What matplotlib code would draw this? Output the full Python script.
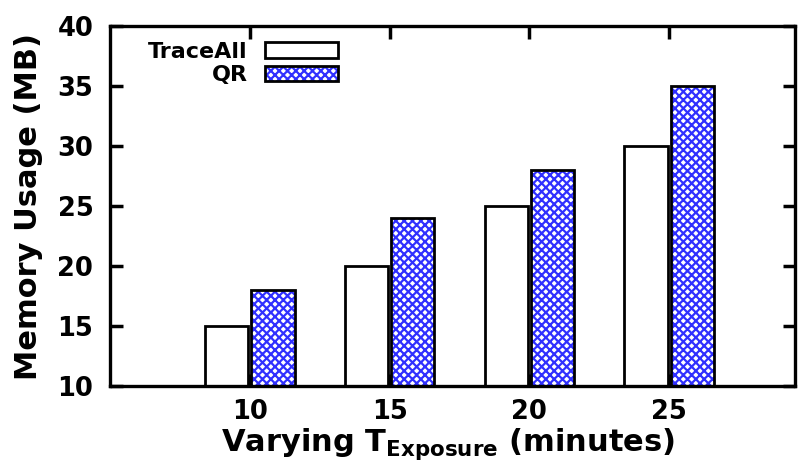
import matplotlib
matplotlib.use("Agg")
import matplotlib.pyplot as plt
from matplotlib.patches import Patch
from matplotlib.legend_handler import HandlerTuple
import numpy as np

categories = ["10", "15", "20", "25"]
traceall = [15, 20, 25, 30]
qr = [18, 24, 28, 35]

plt.rcParams['font.family'] = ['DejaVu Sans']
plt.rcParams['font.weight'] = 'bold'
plt.rcParams['mathtext.fontset'] = 'dejavusans'
plt.rcParams['mathtext.default'] = 'bf'
plt.rcParams['hatch.linewidth'] = 1.6

BLUE = '#3030ff'

fig = plt.figure(figsize=(8.08, 4.73), dpi=100)
ax = fig.add_axes([110/808, 1-386/473, (795-110)/808, (386-26)/473])

x = np.arange(1, len(categories) + 1)
w = 0.31
gap = 0.01
ax.bar(x - w/2 - gap, traceall, w, color='white', edgecolor='black', linewidth=2.0, zorder=2)
ax.bar(x + w/2 + gap, qr, w, color='white', edgecolor=BLUE, hatch='xxxx', linewidth=0, zorder=2)
ax.bar(x + w/2 + gap, qr, w, color='none', edgecolor='black', linewidth=2.0, zorder=3)

ax.set_xlim(0.0, 4.9)
ax.set_ylim(10, 40)
ax.set_yticks([10, 15, 20, 25, 30, 35, 40])
ax.set_xticks(x)
ax.set_xticklabels(categories)
ax.tick_params(axis='both', direction='in', length=9, width=2.5, labelsize=18.5,
               top=True, right=True)
ax.tick_params(axis='y', pad=12)
ax.tick_params(axis='x', pad=9)
for lab in ax.get_xticklabels() + ax.get_yticklabels():
    lab.set_fontweight('heavy')
for s in ax.spines.values():
    s.set_linewidth(2.4)

ax.set_ylabel("Memory Usage (MB)", fontsize=22, fontweight='bold')
ax.yaxis.set_label_coords(-0.098, 0.5)
ax.set_xlabel(r"Varying T$_{Exposure}$ (minutes)", fontsize=22, fontweight='bold')
ax.xaxis.set_label_coords(0.493, -0.112)

h1 = Patch(facecolor='white', edgecolor='black', linewidth=2.0)
h2a = Patch(facecolor='white', edgecolor=BLUE, hatch='xxxx', linewidth=0)
h2b = Patch(facecolor='none', edgecolor='black', linewidth=2.0)
leg = ax.legend([h1, (h2a, h2b)], ["TraceAll", "QR"], loc='upper left',
                bbox_to_anchor=(0.03, 1.005), frameon=False, markerfirst=False,
                handlelength=3.3, handleheight=0.7, labelspacing=0.15,
                handletextpad=0.75, borderpad=0.3,
                prop={'weight': 'bold', 'size': 16},
                handler_map={tuple: HandlerTuple(ndivide=1)})
for t in leg.get_texts():
    t.set_ha('right')

fig.savefig("out.png", dpi=100)
